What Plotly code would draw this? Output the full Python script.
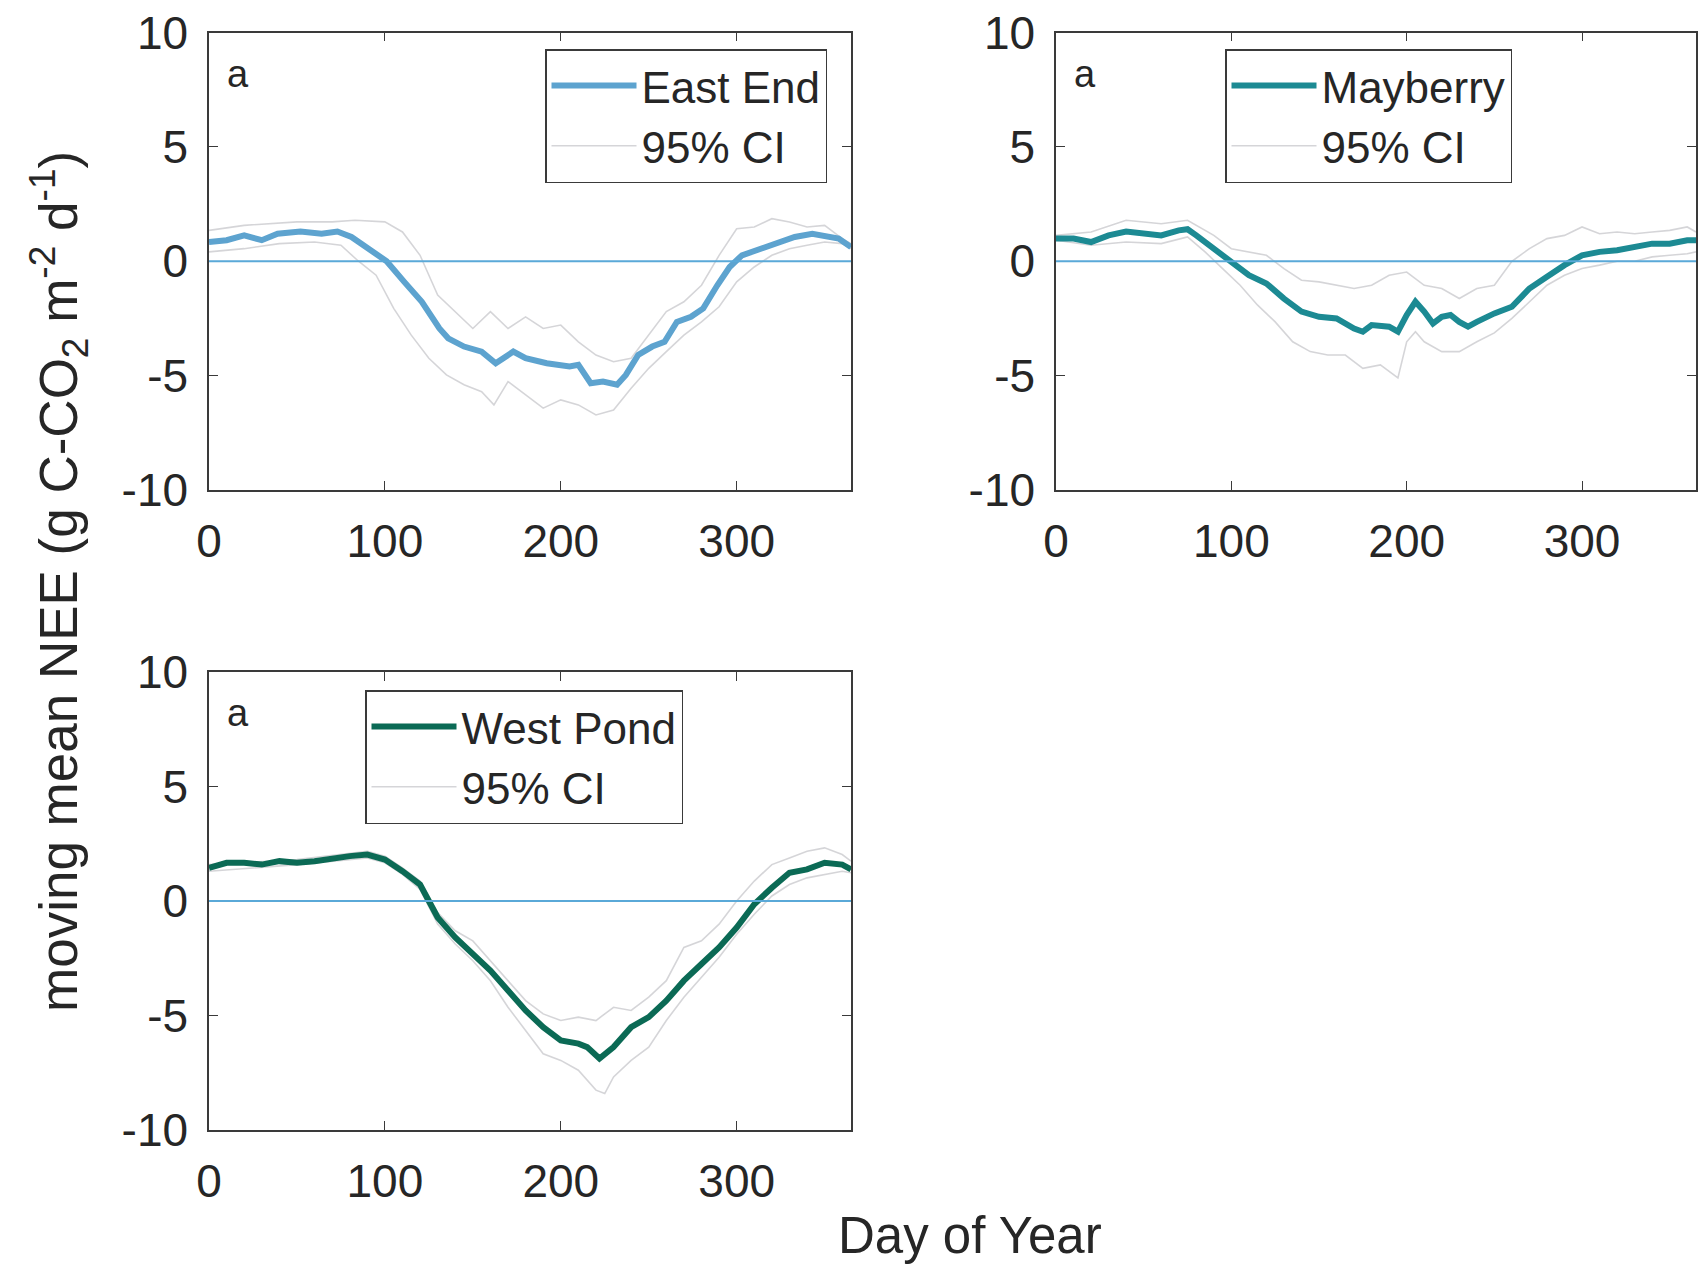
import plotly.graph_objects as go

# ---------------- data ----------------
# East End
EE_MEAN_DAY = [0, 10, 20, 30, 39, 52, 64, 73, 81, 91, 101, 111, 121, 131, 136, 145, 155, 163, 173, 180,
               192, 205, 210, 217, 224, 232, 237, 244, 252, 259, 266, 274, 281, 289, 296, 303, 313, 323,
               333, 343, 350, 358, 365]
EE_MEAN = [0.84, 0.92, 1.13, 0.92, 1.2, 1.3, 1.2, 1.3, 1.06, 0.55, 0.0, -0.9, -1.77, -2.94, -3.37, -3.73,
           -3.95, -4.46, -3.95, -4.24, -4.46, -4.6, -4.53, -5.33, -5.26, -5.4, -4.97, -4.1, -3.73, -3.52,
           -2.65, -2.43, -2.06, -1.05, -0.25, 0.26, 0.55, 0.77, 1.06, 1.2, 1.13, 0.99, 0.62]
EE_UP_DAY = [0, 20, 50, 70, 83, 100, 110, 120, 130, 140, 150, 160, 170, 180, 190, 200, 210, 220, 230, 240,
             250, 260, 270, 280, 290, 300, 310, 320, 330, 340, 350, 360, 365]
EE_UP = [1.35, 1.57, 1.72, 1.72, 1.79, 1.72, 1.28, 0.26, -1.48, -2.2, -2.94, -2.2, -2.94, -2.43, -2.94,
         -2.79, -3.52, -4.1, -4.39, -4.24, -3.23, -2.2, -1.77, -1.05, 0.26, 1.42, 1.5, 1.86, 1.72, 1.5,
         1.57, 0.99, 0.77]
EE_LO_DAY = [0, 20, 40, 60, 75, 85, 95, 105, 115, 125, 135, 145, 155, 162, 170, 180, 190, 200, 210, 220,
             230, 240, 250, 260, 270, 280, 290, 300, 310, 320, 330, 340, 350, 360, 365]
EE_LO = [0.41, 0.55, 0.77, 0.84, 0.70, 0.0, -0.61, -2.06, -3.23, -4.24, -4.97, -5.4, -5.7, -6.28, -5.26,
         -5.84, -6.42, -6.06, -6.28, -6.72, -6.5, -5.55, -4.68, -3.95, -3.23, -2.65, -1.99, -0.9, -0.25,
         0.26, 0.55, 0.7, 0.84, 0.77, 0.55]

# Mayberry
MB_MEAN_DAY = [0, 10, 20, 30, 40, 50, 60, 70, 75, 80, 90, 100, 110, 120, 130, 140, 150, 160, 170, 175,
               180, 190, 195, 200, 205, 210, 215, 220, 225, 230, 235, 240, 250, 260, 270, 280, 290, 300,
               310, 320, 330, 340, 350, 360, 365]
MB_MEAN = [0.99, 0.99, 0.84, 1.13, 1.3, 1.2, 1.13, 1.35, 1.4, 1.13, 0.55, -0.1, -0.61, -0.97, -1.63, -2.2,
           -2.43, -2.5, -2.94, -3.08, -2.79, -2.86, -3.08, -2.35, -1.77, -2.2, -2.72, -2.43, -2.35, -2.65,
           -2.86, -2.65, -2.28, -1.99, -1.19, -0.68, -0.17, 0.26, 0.41, 0.48, 0.62, 0.77, 0.77, 0.92, 0.92]
MB_UP_DAY = [0, 20, 40, 60, 75, 90, 100, 110, 120, 130, 140, 150, 160, 170, 180, 190, 200, 210, 220, 230,
             240, 250, 260, 270, 280, 290, 300, 310, 320, 330, 340, 350, 360, 365]
MB_UP = [1.13, 1.28, 1.79, 1.64, 1.79, 1.13, 0.55, 0.41, 0.26, -0.32, -0.83, -0.9, -1.05, -1.19, -1.05,
         -0.61, -0.47, -1.05, -1.19, -1.63, -1.19, -1.05, 0.0, 0.55, 0.99, 1.13, 1.5, 1.2, 1.28, 1.2, 1.28,
         1.35, 1.5, 1.28]
MB_LO_DAY = [0, 20, 40, 60, 75, 85, 95, 105, 115, 125, 135, 145, 155, 165, 175, 185, 195, 200, 205, 210,
             220, 230, 240, 250, 260, 270, 280, 290, 300, 310, 320, 330, 340, 350, 360, 365]
MB_LO = [0.92, 0.7, 0.84, 0.77, 1.06, 0.41, -0.32, -1.05, -1.92, -2.65, -3.52, -3.95, -4.1, -4.1, -4.68,
         -4.53, -5.1, -3.52, -3.08, -3.52, -3.95, -3.95, -3.52, -3.13, -2.5, -1.77, -1.05, -0.61, -0.32,
         -0.17, 0.0, 0.0, 0.19, 0.26, 0.33, 0.41]

# West Pond
WP_MEAN_DAY = [0, 10, 20, 30, 40, 50, 60, 70, 80, 90, 100, 110, 120, 125, 130, 140, 150, 160, 170, 180,
               190, 200, 210, 215, 222, 230, 240, 250, 260, 270, 280, 290, 300, 310, 320, 330, 340, 350,
               360, 365]
WP_MEAN = [1.45, 1.67, 1.67, 1.59, 1.74, 1.67, 1.74, 1.88, 1.96, 2.03, 1.81, 1.3, 0.72, 0.0, -0.72, -1.59,
           -2.32, -3.04, -3.91, -4.78, -5.51, -6.09, -6.23, -6.38, -6.88, -6.38, -5.51, -5.07, -4.35, -3.48,
           -2.75, -2.03, -1.16, -0.14, 0.58, 1.23, 1.38, 1.67, 1.59, 1.38]
WP_UP_DAY = [0, 50, 90, 100, 110, 120, 130, 140, 150, 160, 170, 180, 190, 200, 210, 220, 230, 240, 250,
             260, 270, 280, 290, 300, 310, 320, 330, 340, 350, 360, 365]
WP_UP = [1.59, 1.81, 2.17, 1.96, 1.45, 0.87, -0.51, -1.3, -1.74, -2.61, -3.48, -4.35, -4.93, -5.22, -5.07,
         -5.22, -4.64, -4.78, -4.2, -3.48, -2.03, -1.74, -1.01, 0.0, 0.87, 1.59, 1.88, 2.17, 2.32, 2.03, 1.74]
WP_LO_DAY = [0, 50, 90, 100, 110, 120, 130, 140, 150, 160, 170, 180, 190, 200, 210, 220, 225, 230, 240,
             250, 260, 270, 280, 290, 300, 310, 320, 330, 340, 350, 360, 365]
WP_LO = [1.3, 1.59, 1.88, 1.67, 1.16, 0.51, -1.01, -1.88, -2.61, -3.48, -4.64, -5.65, -6.67, -6.96, -7.39,
         -8.26, -8.41, -7.68, -6.96, -6.38, -5.22, -4.2, -3.33, -2.46, -1.45, -0.58, 0.22, 0.72, 1.01, 1.16,
         1.3, 1.23]

SITES = ["East End", "Mayberry", "West Pond"]
CI_LABEL = "95% CI"
X_TICKS = [0, 100, 200, 300]
X_TICK_LABELS = ["0", "100", "200", "300"]
Y_TICKS = [-10, -5, 0, 5, 10]
Y_TICK_LABELS = ["-10", "-5", "0", "5", "10"]
PANEL_LABEL = "a"
X_TITLE = "Day of Year"
NB = "\u00a0"
Y_TITLE = ("moving mean NEE (g C-CO<sub>2</sub>" + NB + "m<sup>-2</sup>" + NB
           + "d<sup>-1</sup>)")

# ---------------- styling ----------------
W, H = 1699, 1267
FONT = "Liberation Sans, Arial, Helvetica, sans-serif"
TXT = "#262626"
AX = "#3a3a3a"
CI_COLOR = "rgba(208,208,212,0.9)"
ZERO_COLOR = "#5aa9d8"
COLORS = ["#5da3cf", "#1c8a93", "#0b6a55"]

def px_x(a, b):
    return [a / W, b / W]

def px_y(top, bottom):
    return [1 - bottom / H, 1 - top / H]

panels = [
    dict(xd=px_x(209, 851), yd=px_y(32.5, 490)),
    dict(xd=px_x(1056, 1696), yd=px_y(32.5, 490)),
    dict(xd=px_x(209, 851), yd=px_y(672, 1130)),
]
legend_pos = [(545, 49), (1225, 49), (365, 690)]

series = [
    (EE_MEAN_DAY, EE_MEAN, EE_UP_DAY, EE_UP, EE_LO_DAY, EE_LO),
    (MB_MEAN_DAY, MB_MEAN, MB_UP_DAY, MB_UP, MB_LO_DAY, MB_LO),
    (WP_MEAN_DAY, WP_MEAN, WP_UP_DAY, WP_UP, WP_LO_DAY, WP_LO),
]

fig = go.Figure()
layout = dict(
    width=W, height=H,
    margin=dict(l=0, r=0, t=0, b=0, pad=0, autoexpand=False),
    paper_bgcolor="white", plot_bgcolor="white",
    font=dict(family=FONT, color=TXT, size=46),
    showlegend=True,
)

for i, (md, mv, ud, uv, ld, lv) in enumerate(series):
    k = "" if i == 0 else str(i + 1)
    xa, ya = "x" + k, "y" + k
    lg = "legend" + k
    fig.add_trace(go.Scatter(x=ud, y=uv, xaxis=xa, yaxis=ya, mode="lines",
                             line=dict(color=CI_COLOR, width=1.6), name=CI_LABEL,
                             legend=lg, legendrank=2))
    fig.add_trace(go.Scatter(x=ld, y=lv, xaxis=xa, yaxis=ya, mode="lines",
                             line=dict(color=CI_COLOR, width=1.6), name=CI_LABEL,
                             legend=lg, showlegend=False))
    fig.add_trace(go.Scatter(x=md, y=mv, xaxis=xa, yaxis=ya, mode="lines",
                             line=dict(color=COLORS[i], width=6), name=SITES[i],
                             legend=lg, legendrank=1))
    p = panels[i]
    common = dict(showline=True, linecolor=AX, linewidth=1.5, mirror="ticks",
                  ticks="inside", ticklen=9, tickwidth=1.4, tickcolor=AX,
                  showgrid=False, zeroline=False, automargin=False,
                  tickfont=dict(family=FONT, size=46, color=TXT))
    layout["xaxis" + k] = dict(domain=p["xd"], anchor=ya, range=[0, 365],
                               tickvals=X_TICKS, ticktext=X_TICK_LABELS,
                               ticklabelstandoff=10, **common)
    layout["yaxis" + k] = dict(domain=p["yd"], anchor=xa, range=[-10, 10],
                               tickvals=Y_TICKS, ticktext=Y_TICK_LABELS,
                               ticklabelstandoff=10, **common)
    lx, ly = legend_pos[i]
    layout[lg] = dict(x=lx / W, y=1 - ly / H, xanchor="left", yanchor="top",
                      bgcolor="white", bordercolor=AX, borderwidth=1.5,
                      font=dict(family=FONT, size=44, color=TXT),
                      itemwidth=85, tracegroupgap=0, traceorder="normal")
    fig.add_shape(type="line", xref=xa + " domain", yref=ya, x0=0, x1=1, y0=0, y1=0,
                  line=dict(color=ZERO_COLOR, width=2.2), layer="above")
    fig.add_annotation(text=PANEL_LABEL, xref=xa + " domain", yref=ya + " domain",
                       x=0.025, y=0.91, xanchor="left", yanchor="middle", showarrow=False,
                       font=dict(family=FONT, size=38, color=TXT))

fig.update_layout(**layout)

fig.add_annotation(text=X_TITLE, xref="paper", yref="paper", x=970 / W, y=1 - 1235 / H,
                   xanchor="center", yanchor="middle", showarrow=False,
                   font=dict(family=FONT, size=51, color=TXT))
fig.add_annotation(text=Y_TITLE, xref="paper", yref="paper", x=58 / W, y=1 - 582 / H,
                   xanchor="center", yanchor="middle", showarrow=False, textangle=-90,
                   font=dict(family=FONT, size=53, color=TXT))

fig.write_html("out.html")
